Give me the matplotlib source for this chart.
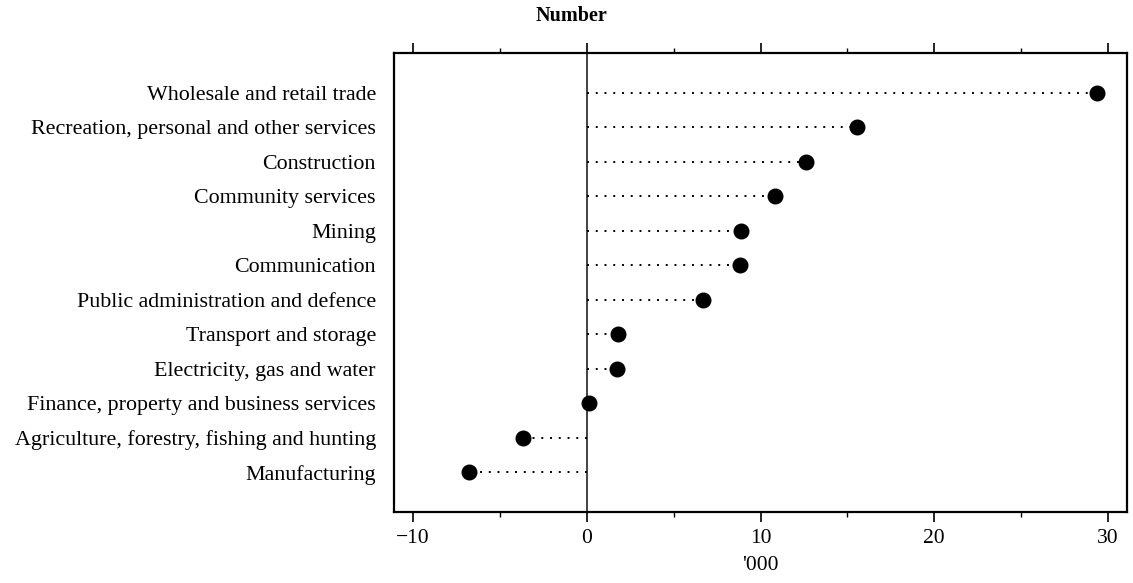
import matplotlib
matplotlib.use("Agg")
import matplotlib.pyplot as plt
from matplotlib.ticker import MultipleLocator

categories = [
    "Wholesale and retail trade",
    "Recreation, personal and other services",
    "Construction",
    "Community services",
    "Mining",
    "Communication",
    "Public administration and defence",
    "Transport and storage",
    "Electricity, gas and water",
    "Finance, property and business services",
    "Agriculture, forestry, fishing and hunting",
    "Manufacturing",
]
values = [29.4, 15.55, 12.6, 10.85, 8.85, 8.8, 6.7, 1.8, 1.75, 0.1, -3.7, -6.8]
xticks = [-10, 0, 10, 20, 30]

plt.rcParams['font.family'] = ['Liberation Serif', 'DejaVu Serif']

fig = plt.figure(figsize=(11.33, 5.83), dpi=100)
ax = fig.add_axes([394/1133, 71/583, (1127-394)/1133, (512-53)/583])

ypos = list(range(len(categories)))
for y, v in zip(ypos, values):
    ax.plot([0, v], [y, y], color='black', linestyle=(0, (1, 3.5)), linewidth=1.4)
ax.plot(values, ypos, 'o', color='black', markersize=10.5, zorder=3)
ax.axvline(0, color='#222222', linewidth=1.2, zorder=1)

ax.set_xlim(-11.1, 31.1)
ax.set_ylim(len(categories) - 1 + 1.15, -1.15)
ax.set_yticks(ypos)
ax.set_yticklabels(categories, fontsize=15.8)
ax.tick_params(axis='y', length=0, pad=13)
ax.set_xticks(xticks)
ax.set_xticklabels(["\u221210", "0", "10", "20", "30"], fontsize=15.5)
ax.xaxis.set_minor_locator(MultipleLocator(5))
ax.tick_params(axis='x', which='major', direction='out', length=7, width=1.2,
               top=True, labeltop=False, pad=5)
ax.tick_params(axis='x', which='minor', direction='out', length=3.5, width=1.0,
               top=True)
ax.set_xlabel("'000", fontsize=15.5, labelpad=6)
for s in ax.spines.values():
    s.set_linewidth(1.6)

fig.text(571/1133, 1 - 16/583, "Number", ha='center', va='center',
         fontsize=14.5, fontweight='bold')

fig.savefig("out.png", dpi=100)
